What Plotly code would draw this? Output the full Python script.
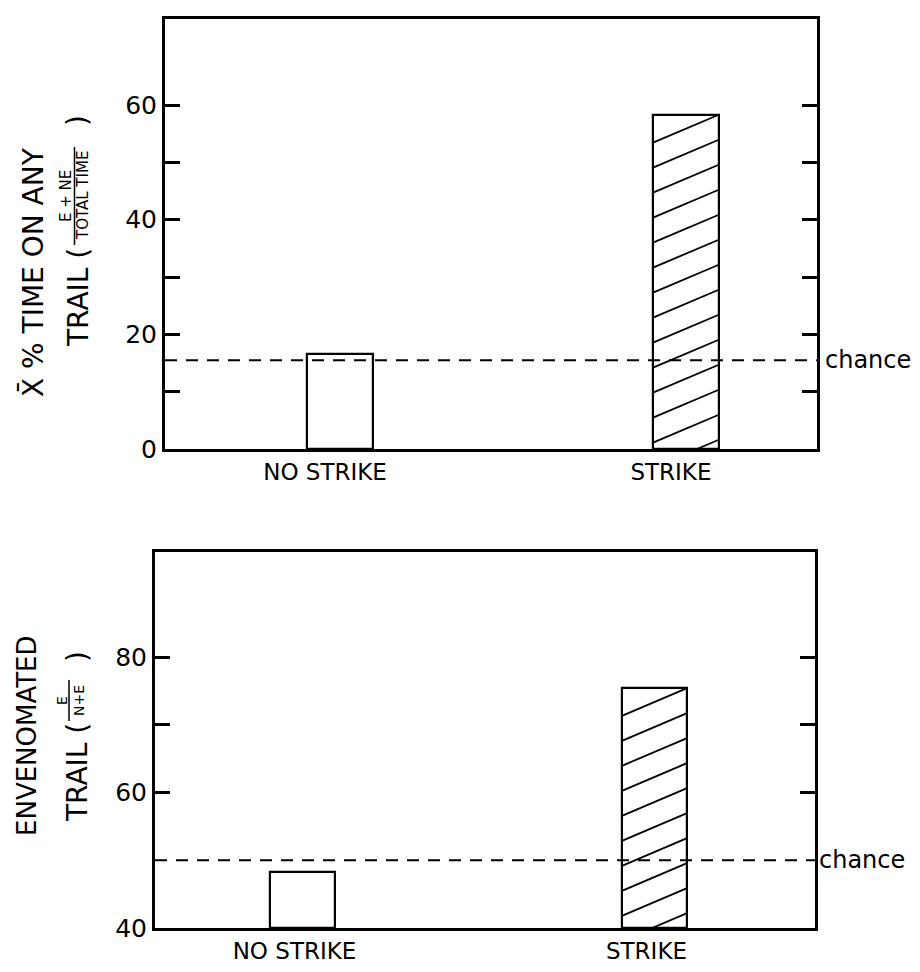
import plotly.graph_objects as go

# ---------------- data ----------------
categories = ["NO STRIKE", "STRIKE"]
top_values = [16.5, 58.3]          # mean % time on any trail
top_chance = 15.5
top_tickvals = [0, 10, 20, 30, 40, 50, 60]
top_ticktext = ["0", "", "20", "", "40", "", "60"]

bottom_values = [48.3, 75.4]       # envenomated trail E/(N+E)
bottom_chance = 50
bottom_tickvals = [40, 60, 70, 80]
bottom_ticktext = ["40", "60", "", "80"]

# ---------------- layout constants ----------------
PAD = 8                      # default page body margin
W, H = 920 - 2 * PAD, 972 - 2 * PAD
FONT = "DejaVu Sans"

def fx(p):
    return (p - PAD) / W

def fy(p):
    return 1 - (p - PAD) / H

top_xdom = [fx(165), fx(817)]
top_ydom = [fy(449), fy(19)]
top_xrange = [-0.506, 1.379]
top_yrange = [0, 75]
top_width = 0.19

bot_xdom = [fx(155), fx(815)]
bot_ydom = [fy(928), fy(552)]
bot_xrange = [-0.419, 1.456]
bot_yrange = [40, 95.5]
bot_width = 0.185

xpos = list(range(len(categories)))


def hatch_lines(xc, w, y0, y1, xdom, xrange_, ydom, yrange_, spacing_px=25, rise_px=28, ref_w_px=66):
    """Diagonal hatch segments inside a bar rectangle (derived from bar data)."""
    ppx = (xdom[1] - xdom[0]) * W / (xrange_[1] - xrange_[0])
    ppy = (ydom[1] - ydom[0]) * H / (yrange_[1] - yrange_[0])
    s = (rise_px / ref_w_px) * ppx / ppy
    step = spacing_px / ppy
    xl, xr = xc - w / 2, xc + w / 2
    xs, ys = [], []
    c = y1 - s * (xr - xl)
    while c + s * (xr - xl) > y0:
        xa = max(xl, xl + (y0 - c) / s)
        xb = min(xr, xl + (y1 - c) / s)
        if xb > xa:
            xs += [xa, xb, None]
            ys += [c + s * (xa - xl), c + s * (xb - xl), None]
        c -= step
    return xs, ys


fig = go.Figure()

# top panel bars
fig.add_trace(go.Bar(x=xpos, y=top_values, width=top_width, xaxis="x", yaxis="y",
                     marker=dict(color="white", line=dict(color="black", width=2.2)),
                     showlegend=False, hoverinfo="skip"))
hx, hy = hatch_lines(xpos[1], top_width, top_yrange[0], top_values[1],
                     top_xdom, top_xrange, top_ydom, top_yrange)
fig.add_trace(go.Scatter(x=hx, y=hy, mode="lines", xaxis="x", yaxis="y",
                         line=dict(color="black", width=1.8), showlegend=False, hoverinfo="skip"))

# bottom panel bars
fig.add_trace(go.Bar(x=xpos, y=[v - bot_yrange[0] for v in bottom_values], base=bot_yrange[0],
                     width=bot_width, xaxis="x2", yaxis="y2",
                     marker=dict(color="white", line=dict(color="black", width=2.2)),
                     showlegend=False, hoverinfo="skip"))
hx2, hy2 = hatch_lines(xpos[1], bot_width, bot_yrange[0], bottom_values[1],
                       bot_xdom, bot_xrange, bot_ydom, bot_yrange)
fig.add_trace(go.Scatter(x=hx2, y=hy2, mode="lines", xaxis="x2", yaxis="y2",
                         line=dict(color="black", width=1.8), showlegend=False, hoverinfo="skip"))

axis_common = dict(showline=True, linecolor="black", linewidth=3, showgrid=False,
                   zeroline=False, automargin=False)

fig.update_layout(
    width=W, height=H,
    margin=dict(l=0, r=0, t=0, b=0),
    paper_bgcolor="white", plot_bgcolor="white",
    font=dict(family=FONT, color="black"),
    showlegend=False,
    bargap=0,
    xaxis=dict(domain=top_xdom, range=top_xrange, anchor="y", tickvals=xpos, ticktext=categories,
               ticks="", mirror=True, ticklabelshift=-15,
               tickfont=dict(size=23, family=FONT), **axis_common),
    yaxis=dict(domain=top_ydom, range=top_yrange, anchor="x", tickvals=top_tickvals,
               ticktext=top_ticktext, ticks="inside", ticklen=15, tickwidth=2.5, tickcolor="black",
               mirror="ticks", tickfont=dict(size=25, family=FONT), **axis_common),
    xaxis2=dict(domain=bot_xdom, range=bot_xrange, anchor="y2", tickvals=xpos, ticktext=categories,
                ticks="", mirror=True, ticklabelshift=-8,
                tickfont=dict(size=23, family=FONT), **axis_common),
    yaxis2=dict(domain=bot_ydom, range=bot_yrange, anchor="x2", tickvals=bottom_tickvals,
                ticktext=bottom_ticktext, ticks="inside", ticklen=15, tickwidth=2.5, tickcolor="black",
                mirror="ticks", tickfont=dict(size=25, family=FONT), **axis_common),
)

# chance lines
for xr_, yr_, val in [("x domain", "y", top_chance), ("x2 domain", "y2", bottom_chance)]:
    fig.add_shape(type="line", xref=xr_, yref=yr_, x0=0, x1=1, y0=val, y1=val,
                  line=dict(color="black", width=2, dash="12px,9px"), layer="above")

fig.add_annotation(xref="x domain", yref="y", x=1, y=top_chance, text="chance", showarrow=False,
                   xanchor="left", yanchor="middle", xshift=6, font=dict(size=24, family=FONT))
fig.add_annotation(xref="x2 domain", yref="y2", x=1, y=bottom_chance, text="chance", showarrow=False,
                   xanchor="left", yanchor="middle", xshift=2, font=dict(size=24, family=FONT))

# y-axis titles (rotated)
def rot(text, x, y, size):
    fig.add_annotation(xref="paper", yref="paper", x=fx(x), y=fy(y), text=text, showarrow=False,
                       textangle=-90, xanchor="center", yanchor="middle", borderpad=0,
                       font=dict(size=size, family=FONT, color="black"))

rot("X\u0304 % TIME ON ANY", 33, 272, 28)
rot("TRAIL (", 78, 298, 28)
rot("E + NE", 66, 196, 15)
rot("TOTAL TIME", 83, 196, 15)
rot(")", 78, 121, 28)
fig.add_shape(type="line", xref="paper", yref="paper", x0=fx(74.5), x1=fx(74.5), y0=fy(147), y1=fy(245),
              line=dict(color="black", width=1.5))

rot("ENVENOMATED", 27, 736, 26)
rot("TRAIL (", 77, 773, 28)
rot("E", 62, 701, 14)
rot("N+E", 79, 701, 14)
rot(")", 77, 657, 28)
fig.add_shape(type="line", xref="paper", yref="paper", x0=fx(69), x1=fx(69), y0=fy(680), y1=fy(721),
              line=dict(color="black", width=1.5))

fig.write_html("out.html")
